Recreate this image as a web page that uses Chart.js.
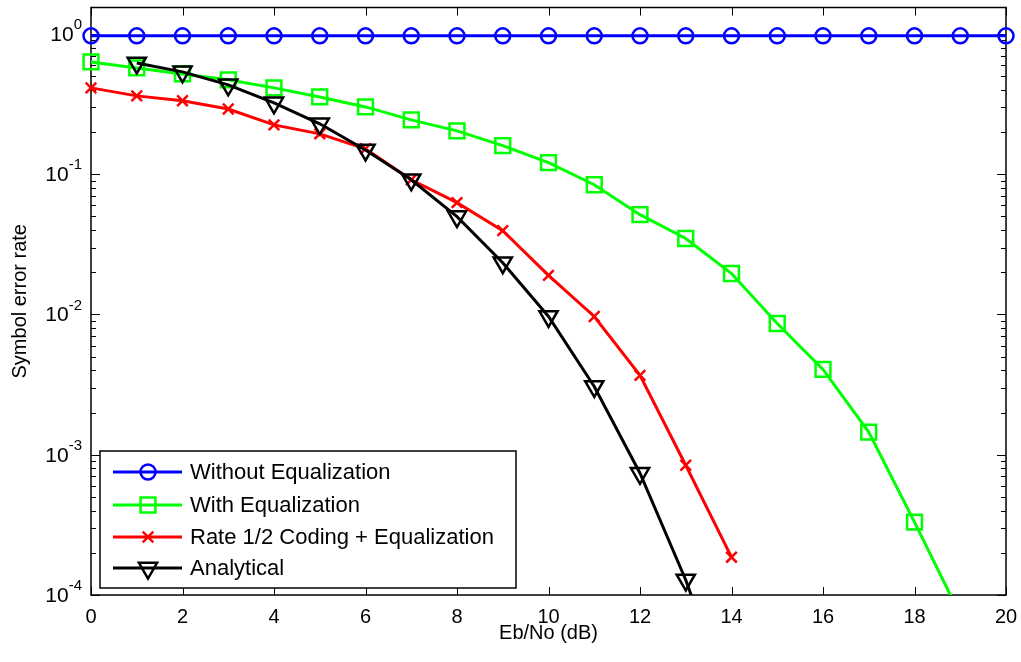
<!DOCTYPE html>
<html>
<head>
<meta charset="utf-8">
<script src="https://cdn.jsdelivr.net/npm/chart.js@4.4.1/dist/chart.umd.min.js"></script>
<style>
  html, body { margin: 0; padding: 0; background: #fff; }
  #wrap { width: 1021px; height: 662px; }
</style>
</head>
<body>
<div id="wrap"><canvas id="ser" width="1021" height="662"></canvas></div>
<script>
// Eb/No in dB
const ebno = [0, 1, 2, 3, 4, 5, 6, 7, 8, 9, 10, 11, 12, 13, 14, 15, 16, 17, 18, 19, 20];

// symbol error rates (null = no point)
const withoutEq = [0.97, 0.97, 0.97, 0.97, 0.97, 0.97, 0.97, 0.97, 0.97, 0.97, 0.97,
  0.97, 0.97, 0.97, 0.97, 0.97, 0.97, 0.97, 0.97, 0.97, 0.97];
const withEq = [0.632, 0.573, 0.519, 0.471, 0.413, 0.356, 0.302, 0.244, 0.204, 0.16, 0.121,
  0.0842, 0.0515, 0.0348, 0.0196, 0.00863, 0.00406, 0.00145, 0.000331, 0.000072, null];
const codedEq = [0.413, 0.362, 0.334, 0.292, 0.225, 0.194, 0.152, 0.0914, 0.0627, 0.0396, 0.019,
  0.00968, 0.00368, 0.000842, 0.000186, null, null, null, null, null, null];
const analytical = [null, 0.622, 0.537, 0.434, 0.323, 0.229, 0.149, 0.0914, 0.0499, 0.0234, 0.00968,
  0.00307, 0.000738, 0.000128, 0.0000157, null, null, null, null, null, null];

const seriesNames = ['Without Equalization', 'With Equalization', 'Rate 1/2 Coding + Equalization', 'Analytical'];
const xTicks = [0, 2, 4, 6, 8, 10, 12, 14, 16, 18, 20];
const yExponents = [0, -1, -2, -3, -4];

const FONT = "'Liberation Sans', Arial, sans-serif";

function pts(ys) {
  return ebno.map((x, i) => ({ x: x, y: ys[i] })).filter(p => p.y !== null);
}

const markers = [
  { color: '#0000ff', style: 'circle', radius: 7.5, rotation: 0 },
  { color: '#00ff00', style: 'rect', radius: 10.5, rotation: 0 },
  { color: '#ff0000', style: 'crossRot', radius: 7.5, rotation: 0 },
  { color: '#000000', style: 'triangle', radius: 10.5, rotation: 180 }
];

function makeSet(i, ys) {
  const m = markers[i];
  return {
    label: seriesNames[i],
    data: pts(ys),
    borderColor: m.color,
    borderWidth: 3,
    pointStyle: m.style,
    pointRadius: m.radius,
    pointRotation: m.rotation,
    pointBorderColor: m.color,
    pointBackgroundColor: 'rgba(0,0,0,0)',
    pointBorderWidth: 2.5,
    tension: 0,
    order: 3 - i,
    clip: { left: 20, right: 20, top: 20, bottom: 0 }
  };
}

// box and inward ticks, drawn under the data like MATLAB
const framePlugin = {
  id: 'frame',
  beforeDatasetsDraw(chart) {
    const ctx = chart.ctx;
    const a = chart.chartArea;
    const xs = chart.scales.x, ys = chart.scales.y;
    ctx.save();
    ctx.strokeStyle = '#000';
    ctx.lineWidth = 1.5;
    ctx.strokeRect(a.left, a.top, a.right - a.left, a.bottom - a.top);
    ctx.lineWidth = 1;
    ctx.beginPath();
    xTicks.forEach(v => {
      const px = Math.round(xs.getPixelForValue(v)) + 0.5;
      ctx.moveTo(px, a.bottom); ctx.lineTo(px, a.bottom - 8);
      ctx.moveTo(px, a.top); ctx.lineTo(px, a.top + 8);
    });
    yExponents.forEach(e => {
      for (let k = 1; k <= 9; k++) {
        const v = k * Math.pow(10, e);
        if (v > ys.max || v < ys.min) continue;
        const len = k === 1 ? 9 : 5;
        const py = Math.round(ys.getPixelForValue(v)) + 0.5;
        ctx.moveTo(a.left, py); ctx.lineTo(a.left + len, py);
        ctx.moveTo(a.right, py); ctx.lineTo(a.right - len, py);
      }
    });
    ctx.stroke();
    ctx.restore();
  },
  afterDraw(chart) {
    const ctx = chart.ctx;
    const a = chart.chartArea;
    const ys = chart.scales.y;
    ctx.save();
    ctx.fillStyle = '#000';
    // y tick labels 10^e
    yExponents.forEach(e => {
      const py = ys.getPixelForValue(Math.pow(10, e));
      ctx.textBaseline = 'middle';
      ctx.textAlign = 'left';
      const ex = String(e);
      ctx.font = '15px ' + FONT;
      const ew = ctx.measureText(ex).width;
      ctx.font = '21px ' + FONT;
      const bw = ctx.measureText('10').width;
      const right = 82;
      ctx.fillText('10', right - ew - bw, py + 1);
      ctx.font = '15px ' + FONT;
      ctx.fillText(ex, right - ew, py - 9);
    });
    // axis titles
    ctx.font = '20px ' + FONT;
    ctx.textAlign = 'center';
    ctx.textBaseline = 'middle';
    ctx.fillText('Eb/No (dB)', (a.left + a.right) / 2, 633);
    ctx.save();
    ctx.translate(20, (a.top + a.bottom) / 2);
    ctx.rotate(-Math.PI / 2);
    ctx.fillText('Symbol error rate', 0, 0);
    ctx.restore();

    // legend box
    const lx = 100, ly = 451, lw = 416, lh = 137;
    ctx.fillStyle = '#fff';
    ctx.fillRect(lx, ly, lw, lh);
    ctx.strokeStyle = '#000';
    ctx.lineWidth = 1.5;
    ctx.strokeRect(lx, ly, lw, lh);
    const rows = [472, 505, 537, 568];
    chart.data.datasets.forEach((ds, i) => {
      const m = markers[i];
      const y = rows[i];
      ctx.strokeStyle = m.color;
      ctx.lineWidth = 3;
      ctx.beginPath();
      ctx.moveTo(113, y); ctx.lineTo(182, y);
      ctx.stroke();
      ctx.lineWidth = 2.5;
      ctx.fillStyle = 'rgba(0,0,0,0)';
      if (Chart.helpers && Chart.helpers.drawPoint) {
        Chart.helpers.drawPoint(ctx, { pointStyle: m.style, radius: m.radius, borderWidth: 2.5, rotation: m.rotation }, 148, y);
      }
      ctx.fillStyle = '#000';
      ctx.font = '22px ' + FONT;
      ctx.textAlign = 'left';
      ctx.textBaseline = 'middle';
      ctx.fillText(ds.label, 190, y + 1);
    });
    ctx.restore();
  }
};

new Chart(document.getElementById('ser'), {
  type: 'line',
  data: {
    datasets: [
      makeSet(0, withoutEq),
      makeSet(1, withEq),
      makeSet(2, codedEq),
      makeSet(3, analytical)
    ]
  },
  options: {
    responsive: false,
    animation: false,
    devicePixelRatio: 1,
    layout: { autoPadding: false, padding: { top: 7.5, right: 15, left: 0, bottom: 0 } },
    plugins: { legend: { display: false }, tooltip: { enabled: false } },
    scales: {
      x: {
        type: 'linear',
        min: 0,
        max: 20,
        ticks: {
          stepSize: 2,
          color: '#000',
          padding: 10,
          maxRotation: 0,
          font: { family: FONT, size: 20 }
        },
        grid: { display: false, drawTicks: false },
        border: { display: false },
        afterFit(s) { s.height = 67; s.paddingLeft = 0; s.paddingRight = 0; }
      },
      y: {
        type: 'logarithmic',
        min: 1e-4,
        max: 1.545,
        ticks: { display: false },
        grid: { display: false, drawTicks: false },
        border: { display: false },
        afterFit(s) { s.width = 91; s.paddingTop = 0; s.paddingBottom = 0; }
      }
    }
  },
  plugins: [framePlugin]
});
</script>
</body>
</html>
